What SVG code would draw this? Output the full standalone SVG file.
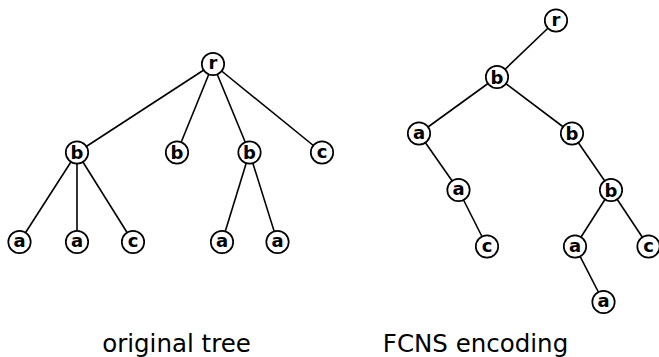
<svg xmlns="http://www.w3.org/2000/svg" width="659" height="357" viewBox="0 0 659 357">
<style>
.edge{stroke:#000;stroke-width:1.6;fill:none}
.node circle{fill:#fff;stroke:#000;stroke-width:1.7}
.node text{font-family:"DejaVu Sans",sans-serif;font-weight:bold;font-size:18px;text-anchor:middle;fill:#000}
.cap{font-family:"DejaVu Sans",sans-serif;font-size:24.5px;text-anchor:middle;fill:#000}
</style>
<rect width="659" height="357" fill="#fff"/>
<g id="connectors">
<line class="edge" x1="213" y1="64" x2="77" y2="152.5"/>
<line class="edge" x1="213" y1="64" x2="177" y2="152.5"/>
<line class="edge" x1="213" y1="64" x2="249.5" y2="152.5"/>
<line class="edge" x1="213" y1="64" x2="322" y2="152.5"/>
<line class="edge" x1="77" y1="152.5" x2="19.5" y2="242"/>
<line class="edge" x1="77" y1="152.5" x2="77" y2="242"/>
<line class="edge" x1="77" y1="152.5" x2="133" y2="242"/>
<line class="edge" x1="249.5" y1="152.5" x2="222" y2="242"/>
<line class="edge" x1="249.5" y1="152.5" x2="277.5" y2="242"/>
<line class="edge" x1="556" y1="20.5" x2="497" y2="77"/>
<line class="edge" x1="497" y1="77" x2="419" y2="133.5"/>
<line class="edge" x1="497" y1="77" x2="572" y2="133.5"/>
<line class="edge" x1="419" y1="133.5" x2="458.5" y2="190"/>
<line class="edge" x1="458.5" y1="190" x2="487" y2="246.5"/>
<line class="edge" x1="572" y1="133.5" x2="611" y2="190"/>
<line class="edge" x1="611" y1="190" x2="575" y2="246.5"/>
<line class="edge" x1="611" y1="190" x2="648.5" y2="246.5"/>
<line class="edge" x1="575" y1="246.5" x2="603.5" y2="302"/>
</g>
<g id="t1-r" class="node"><circle cx="213" cy="64" r="11.2"/><text x="213" y="69">r</text></g>
<g id="t1-b1" class="node"><circle cx="77" cy="152.5" r="11.2"/><text x="77" y="159.3">b</text></g>
<g id="t1-b2" class="node"><circle cx="177" cy="152.5" r="11.2"/><text x="177" y="159.3">b</text></g>
<g id="t1-b3" class="node"><circle cx="249.5" cy="152.5" r="11.2"/><text x="249.5" y="159.3">b</text></g>
<g id="t1-c1" class="node"><circle cx="322" cy="152.5" r="11.2"/><text x="322" y="157.5">c</text></g>
<g id="t1-a1" class="node"><circle cx="19.5" cy="242" r="11.2"/><text x="19.5" y="247">a</text></g>
<g id="t1-a2" class="node"><circle cx="77" cy="242" r="11.2"/><text x="77" y="247">a</text></g>
<g id="t1-c2" class="node"><circle cx="133" cy="242" r="11.2"/><text x="133" y="247">c</text></g>
<g id="t1-a3" class="node"><circle cx="222" cy="242" r="11.2"/><text x="222" y="247">a</text></g>
<g id="t1-a4" class="node"><circle cx="277.5" cy="242" r="11.2"/><text x="277.5" y="247">a</text></g>
<g id="t2-r" class="node"><circle cx="556" cy="20.5" r="11.2"/><text x="556" y="25.5">r</text></g>
<g id="t2-b1" class="node"><circle cx="497" cy="77" r="11.2"/><text x="497" y="83.8">b</text></g>
<g id="t2-a1" class="node"><circle cx="419" cy="133.5" r="11.2"/><text x="419" y="138.5">a</text></g>
<g id="t2-b2" class="node"><circle cx="572" cy="133.5" r="11.2"/><text x="572" y="140.3">b</text></g>
<g id="t2-a2" class="node"><circle cx="458.5" cy="190" r="11.2"/><text x="458.5" y="195">a</text></g>
<g id="t2-b3" class="node"><circle cx="611" cy="190" r="11.2"/><text x="611" y="196.8">b</text></g>
<g id="t2-c1" class="node"><circle cx="487" cy="246.5" r="11.2"/><text x="487" y="251.5">c</text></g>
<g id="t2-a3" class="node"><circle cx="575" cy="246.5" r="11.2"/><text x="575" y="251.5">a</text></g>
<g id="t2-c2" class="node"><circle cx="648.5" cy="246.5" r="11.2"/><text x="648.5" y="251.5">c</text></g>
<g id="t2-a4" class="node"><circle cx="603.5" cy="302" r="11.2"/><text x="603.5" y="307">a</text></g>
<text class="cap" x="176.5" y="351.5">original tree</text>
<text class="cap" x="475.5" y="351.5">FCNS encoding</text>
</svg>
